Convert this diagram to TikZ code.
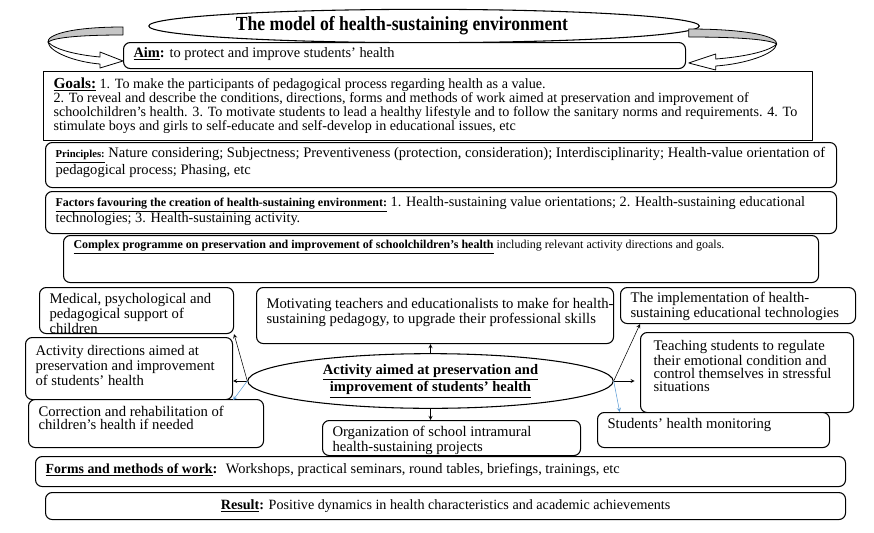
\documentclass[tikz,border=0pt]{standalone}
\usepackage{fontspec}
\setmainfont{Liberation Serif}
\newfontfamily\titlefont[FakeStretch=0.88]{Liberation Serif}
\usetikzlibrary{shapes.geometric}
\definecolor{arrblue}{RGB}{91,155,213}
\newlength\pxu
\setlength\pxu{0.75pt}
% text block inside a box: [top pad]{width}{height}{text}, all in pixels
\newcommand\boxtext[4][6]{\parbox[c][#3\pxu][t]{#2\pxu}{\raggedright\leftskip=10\pxu\vspace*{#1\pxu}#4\par}}
\begin{document}
\begin{tikzpicture}[x=0.75pt,y=-0.75pt,>=stealth,line join=round,
	box/.style={draw,line width=0.8pt,rounded corners=5pt,anchor=north west,inner sep=0pt,fill=white,
		font=\fontsize{11}{9.8}\selectfont},
	oval/.style={draw,ellipse,line width=0.8pt,inner sep=0pt,fill=white}]
	\useasboundingbox (0,0) rectangle (874,532);
	% title and the two turning arrows
	\node[oval,minimum width=413pt,minimum height=25pt,font=\titlefont\bfseries\fontsize{15}{16}\selectfont] (title) at (424,26) {\hspace*{-44\pxu}The model of health-sustaining environment};
	\filldraw[line width=0.6pt,fill=gray!45] (123,27) .. controls (70,27) and (47,35) .. (48,42) .. controls (55,37) and (85,35) .. (123,35) -- cycle;
	\filldraw[line width=0.6pt,fill=white] (48,42) .. controls (49,52) and (75,62) .. (100,64) -- (100,68) -- (123,61) -- (100,52) -- (100,57) .. controls (78,55) and (55,50) .. (48,42) -- cycle;
	\begin{scope}[shift={(833,2)},xscale=-1.173]
	\filldraw[line width=0.6pt,fill=gray!45] (123,27) .. controls (70,27) and (47,35) .. (48,42) .. controls (55,37) and (85,35) .. (123,35) -- cycle;
	\filldraw[line width=0.6pt,fill=white] (48,42) .. controls (49,52) and (75,62) .. (100,64) -- (100,68) -- (123,61) -- (100,52) -- (100,57) .. controls (78,55) and (55,50) .. (48,42) -- cycle;
	\end{scope}
	\node[box,font=\fontsize{10.8}{10.5}\selectfont] (aim) at (123,42) {\boxtext[5]{562}{26}{\underline{\textbf{Aim}}\textbf{:} to protect and improve students’ health}};
	% upper blocks
	\node[box,sharp corners,font=\fontsize{10.6}{10.5}\selectfont] (goals) at (43,71) {\boxtext[6]{769}{69}{\underline{\textbf{\fontsize{11.5}{10.5}\selectfont Goals:}} 1. To make the participants of pedagogical process regarding health as a value.\\
		2. To reveal and describe the conditions, directions, forms and methods of work aimed at preservation and improvement of\\
		schoolchildren’s health. 3. To motivate students to lead a healthy lifestyle and to follow the sanitary norms and requirements. 4. To\\
		stimulate boys and girls to self-educate and self-develop in educational issues, etc}};
	\node[box,font=\fontsize{10.9}{11}\selectfont] (princ) at (45,142) {\boxtext[5]{791}{45}{\underline{\textbf{\fontsize{8}{11}\selectfont Principles:}} Nature considering; Subjectness; Preventiveness (protection, consideration); Interdisciplinarity; Health-value orientation of\\
		pedagogical process; Phasing, etc}};
	\node[box,font=\fontsize{10.7}{10.5}\selectfont] (fact) at (45,191) {\boxtext[5]{791}{42}{\underline{\textbf{\fontsize{9}{10.5}\selectfont Factors favouring the creation of health-sustaining environment:}} 1. Health-sustaining value orientations; 2. Health-sustaining educational\\
		technologies; 3. Health-sustaining activity.}};
	\node[box,font=\fontsize{9}{10}\selectfont] (prog) at (63,235) {\boxtext[5]{755}{47}{\underline{\textbf{Complex programme on preservation and improvement of schoolchildren’s health}} including relevant activity directions and goals.}};
	% activity block
	\node[oval,minimum width=274pt,minimum height=41pt,font=\bfseries\fontsize{10.9}{10.4}\selectfont,align=center] (act) at (430.5,381) {\underline{Activity aimed at preservation and}\\\underline{improvement of students’ health}};
	\node[box] (med) at (39,287) {\boxtext{194}{46}{Medical, psychological and\\ pedagogical support of\\ children}};
	\node[box] (motiv) at (256,287) {\boxtext[11]{357}{56}{Motivating teachers and educationalists to make for health-\\ sustaining pedagogy, to upgrade their professional skills}};
	\node[box] (impl) at (620,287) {\boxtext[5]{235}{36}{The implementation of health-\\ sustaining educational technologies}};
	\node[box] (dir) at (25,337) {\boxtext[8]{207}{62}{Activity directions aimed at\\ preservation and improvement\\ of students’ health}};
	\node[box] (teach) at (640,332) {\boxtext[8]{213}{80}{\hspace*{3\pxu}Teaching students to regulate\\ \hspace*{3\pxu}their emotional condition and\\ \hspace*{3\pxu}control themselves in stressful\\ \hspace*{3\pxu}situations}};
	\node[box] (corr) at (28,399) {\boxtext[7]{235}{48}{Correction and rehabilitation of\\ children’s health if needed}};
	\node[box] (org) at (322,420) {\boxtext{258}{35}{Organization of school intramural\\ health-sustaining projects}};
	\node[box] (mon) at (597,412) {\boxtext{232}{35}{Students’ health monitoring}};
	% links from the activity
	\draw[->] (act.west) -- (med.south east);
	\draw[->] (act.west) -- (act.west -| dir.east);
	\draw[->,arrblue] (act.west) -- (dir.south east);
	\draw[->] (act.north) -- (act.north |- motiv.south);
	\draw[->] (act.south) -- (act.south |- org.north);
	\draw[->] (act.east) -- ([xshift=15pt]impl.south west);
	\draw[->,shorten >=4pt] (act.east) -- (act.east -| teach.west);
	\draw[->,arrblue] (act.east) -- ([xshift=17pt]mon.north west);
	% lower blocks
	\node[box,font=\fontsize{10.8}{10.5}\selectfont] (forms) at (35,456) {\boxtext[7]{810}{30}{\underline{\textbf{\fontsize{10.4}{10.5}\selectfont Forms and methods of work}}\textbf{:} \ Workshops, practical seminars, round tables, briefings, trainings, etc}};
	\node[box,font=\fontsize{10.6}{10.5}\selectfont,minimum width=600pt,minimum height=20.25pt,anchor=north west] (res) at (45,492) {\underline{\textbf{Result}}\textbf{:} Positive dynamics in health characteristics and academic achievements};
\end{tikzpicture}
\end{document}
